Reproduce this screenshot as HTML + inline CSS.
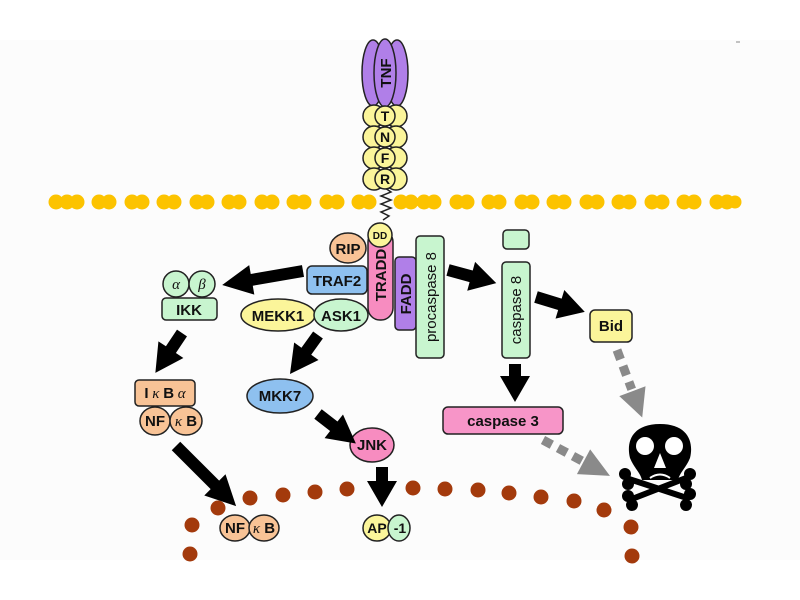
<!DOCTYPE html>
<html><head><style>body{margin:0;background:#fff}svg{display:block}text{font-family:"Liberation Sans",sans-serif;font-weight:bold;fill:#111}.g{font-family:"Liberation Serif",serif;font-style:italic;font-weight:normal}</style></head><body>
<svg width="800" height="600" viewBox="0 0 800 600">
<rect x="0" y="40" width="800" height="520" fill="#fcfcfc"/>
<!-- membrane -->
<g fill="#fcc300">
<circle cx="56" cy="202" r="7.5"/><circle cx="67" cy="202" r="7.5"/><circle cx="77" cy="202" r="7.5"/><circle cx="99" cy="202" r="7.5"/><circle cx="109" cy="202" r="7.5"/><circle cx="132" cy="202" r="7.5"/><circle cx="142" cy="202" r="7.5"/><circle cx="164" cy="202" r="7.5"/><circle cx="174" cy="202" r="7.5"/><circle cx="197" cy="202" r="7.5"/><circle cx="207" cy="202" r="7.5"/><circle cx="229" cy="202" r="7.5"/><circle cx="239" cy="202" r="7.5"/><circle cx="262" cy="202" r="7.5"/><circle cx="272" cy="202" r="7.5"/><circle cx="294" cy="202" r="7.5"/><circle cx="304" cy="202" r="7.5"/><circle cx="327" cy="202" r="7.5"/><circle cx="337" cy="202" r="7.5"/><circle cx="359" cy="202" r="7.5"/><circle cx="369" cy="202" r="7.5"/><circle cx="401" cy="202" r="7.5"/><circle cx="411" cy="202" r="7.5"/><circle cx="424" cy="202" r="7.5"/><circle cx="434" cy="202" r="7.5"/><circle cx="457" cy="202" r="7.5"/><circle cx="467" cy="202" r="7.5"/><circle cx="489" cy="202" r="7.5"/><circle cx="499" cy="202" r="7.5"/><circle cx="522" cy="202" r="7.5"/><circle cx="532" cy="202" r="7.5"/><circle cx="554" cy="202" r="7.5"/><circle cx="564" cy="202" r="7.5"/><circle cx="587" cy="202" r="7.5"/><circle cx="597" cy="202" r="7.5"/><circle cx="619" cy="202" r="7.5"/><circle cx="629" cy="202" r="7.5"/><circle cx="652" cy="202" r="7.5"/><circle cx="662" cy="202" r="7.5"/><circle cx="684" cy="202" r="7.5"/><circle cx="694" cy="202" r="7.5"/><circle cx="717" cy="202" r="7.5"/><circle cx="727" cy="202" r="7.5"/><circle cx="735" cy="202" r="6.5"/>
</g>
<!-- nucleus dots -->
<g fill="#a33a0c">
<circle cx="192" cy="525" r="7.5"/><circle cx="218" cy="508" r="7.5"/><circle cx="250" cy="498" r="7.5"/><circle cx="283" cy="495" r="7.5"/><circle cx="315" cy="492" r="7.5"/><circle cx="347" cy="489" r="7.5"/><circle cx="380" cy="488" r="7.5"/><circle cx="413" cy="488" r="7.5"/><circle cx="445" cy="489" r="7.5"/><circle cx="478" cy="490" r="7.5"/><circle cx="509" cy="493" r="7.5"/><circle cx="541" cy="497" r="7.5"/><circle cx="574" cy="501" r="7.5"/><circle cx="604" cy="510" r="7.5"/><circle cx="631" cy="527" r="7.5"/><circle cx="632" cy="556" r="7.5"/><circle cx="190" cy="554" r="7.5"/>
</g>
<path d="M385,188 l6,4 l-10,4 l10,4 l-10,4 l10,4 l-10,4 l8,4 l-6,4" fill="none" stroke="#222" stroke-width="1.5"/>
<g stroke="#222" stroke-width="1.5">
<ellipse cx="373" cy="73" rx="11" ry="33" fill="#b07fe8"/>
<ellipse cx="397" cy="73" rx="11" ry="33" fill="#b07fe8"/>
<ellipse cx="385" cy="73" rx="11" ry="34" fill="#b07fe8"/>
<g fill="#fbf59a">
<circle cx="374" cy="116" r="11"/><circle cx="396" cy="116" r="11"/><circle cx="385" cy="116" r="10"/>
<circle cx="374" cy="137" r="11"/><circle cx="396" cy="137" r="11"/><circle cx="385" cy="137" r="10"/>
<circle cx="374" cy="158" r="11"/><circle cx="396" cy="158" r="11"/><circle cx="385" cy="158" r="10"/>
<circle cx="374" cy="179" r="11"/><circle cx="396" cy="179" r="11"/><circle cx="385" cy="179" r="10"/>
</g>
<rect x="368" y="230" width="25" height="90" rx="12" fill="#f78cc0"/>
<circle cx="380" cy="235" r="12" fill="#fbf59a"/>
<rect x="395" y="257" width="21" height="73" rx="4" fill="#b07fe8"/>
<rect x="416" y="236" width="28" height="122" rx="4" fill="#c8f5cf"/>
<ellipse cx="348" cy="248" rx="18" ry="15" fill="#f8c396"/>
<rect x="307" y="266" width="60" height="28" rx="5" fill="#8ec0ef"/>
<ellipse cx="278" cy="315" rx="37" ry="16" fill="#fbf59a"/>
<ellipse cx="341" cy="315" rx="27" ry="16" fill="#c8f5cf"/>
<circle cx="176" cy="284" r="13" fill="#c8f5cf"/><circle cx="202" cy="284" r="13" fill="#c8f5cf"/>
<rect x="162" y="298" width="55" height="22" rx="4" fill="#c8f5cf"/>
<rect x="135" y="380" width="60" height="26" rx="4" fill="#f8c396"/>
<ellipse cx="155" cy="421" rx="15" ry="14" fill="#f8c396"/><ellipse cx="186" cy="421" rx="16" ry="14" fill="#f8c396"/>
<ellipse cx="235" cy="528" rx="15" ry="13" fill="#f8c396"/><ellipse cx="264" cy="528" rx="15" ry="13" fill="#f8c396"/>
<ellipse cx="280" cy="396" rx="33" ry="17" fill="#8ec0ef"/>
<ellipse cx="372" cy="445" rx="22" ry="17" fill="#f78cc0"/>
<ellipse cx="377" cy="528" rx="14" ry="13" fill="#fbf59a"/><ellipse cx="399" cy="528" rx="11" ry="13" fill="#c8f5cf"/>
<rect x="503" y="230" width="26" height="19" rx="4" fill="#c8f5cf"/>
<rect x="502" y="262" width="28" height="96" rx="4" fill="#c8f5cf"/>
<rect x="590" y="310" width="42" height="32" rx="5" fill="#fbf59a"/>
<rect x="443" y="407" width="120" height="27" rx="5" fill="#f795c8"/>
</g>
<!-- arrows -->
<g fill="#000">
<g transform="translate(303,271) rotate(170.2)"><polygon points="0,-6 52,-6 52,-15 82,0 52,15 52,6 0,6"/></g>
<g transform="translate(182,333) rotate(123.7)"><polygon points="0,-6 20,-6 20,-15 48,0 20,15 20,6 0,6"/></g>
<g transform="translate(318,335) rotate(125.7)"><polygon points="0,-6 20,-6 20,-15 48,0 20,15 20,6 0,6"/></g>
<g transform="translate(176,446) rotate(45)"><polygon points="0,-6 55,-6 55,-15 85,0 55,15 55,6 0,6"/></g>
<g transform="translate(318,414) rotate(37.9)"><polygon points="0,-6 20,-6 20,-15 48,0 20,15 20,6 0,6"/></g>
<g transform="translate(382,467) rotate(90)"><polygon points="0,-6 14,-6 14,-15 40,0 14,15 14,6 0,6"/></g>
<g transform="translate(448,270) rotate(15.2)"><polygon points="0,-6 24,-6 24,-15 50,0 24,15 24,6 0,6"/></g>
<g transform="translate(536,297) rotate(17)"><polygon points="0,-6 25,-6 25,-15 51,0 25,15 25,6 0,6"/></g>
<g transform="translate(515,364) rotate(90)"><polygon points="0,-6 12,-6 12,-15 38,0 12,15 12,6 0,6"/></g>
</g>
<g fill="#8a8a8a">
<g transform="translate(543,440) rotate(28.2)"><rect x="0" y="-4.5" width="10" height="9"/><rect x="17" y="-4.5" width="10" height="9"/><rect x="34" y="-4.5" width="10" height="9"/><polygon points="46,-14 76,0 46,14"/></g>
<g transform="translate(617,350) rotate(69.5)"><rect x="0" y="-4.5" width="10" height="9"/><rect x="17" y="-4.5" width="10" height="9"/><rect x="34" y="-4.5" width="8" height="9"/><polygon points="44,-14 72,0 44,14"/></g>
</g>
<!-- skull -->
<g>
<path d="M626,478 L690,499 M632,499 L686,478" stroke="#000" stroke-width="6"/>
<circle cx="625" cy="474" r="6"/><circle cx="628" cy="484" r="6"/>
<circle cx="690" cy="474" r="6"/><circle cx="686" cy="484" r="6"/>
<circle cx="628" cy="496" r="6"/><circle cx="632" cy="505" r="6"/>
<circle cx="690" cy="494" r="6"/><circle cx="686" cy="505" r="6"/>
<path d="M660,424 C688,424 694,442 690,458 C686,468 680,472 678,480 L642,480 C640,472 634,468 630,458 C626,442 632,424 660,424z" fill="#000"/>
<circle cx="645" cy="446" r="9" fill="#fff"/><circle cx="674" cy="446" r="9" fill="#fff"/>
<path d="M660,453 L654,468 L666,468z" fill="#fff"/>
<path d="M650,478 Q660,471 670,478" stroke="#fff" stroke-width="2" fill="none"/>
</g>
<!-- labels -->
<text transform="translate(391,73) rotate(-90)" font-size="15" text-anchor="middle">TNF</text>
<g font-size="14" text-anchor="middle">
<text x="385" y="121">T</text><text x="385" y="142">N</text><text x="385" y="163">F</text><text x="385" y="184">R</text>
</g>
<text x="380" y="239" font-size="10" text-anchor="middle">DD</text>
<text transform="translate(386,275) rotate(-90)" font-size="15" text-anchor="middle">TRADD</text>
<text transform="translate(411,294) rotate(-90)" font-size="15" text-anchor="middle">FADD</text>
<text transform="translate(436,297) rotate(-90)" font-size="15" text-anchor="middle" style="font-weight:normal">procaspase 8</text>
<text transform="translate(521,310) rotate(-90)" font-size="15" text-anchor="middle" style="font-weight:normal">caspase 8</text>
<text x="348" y="254" font-size="15" text-anchor="middle">RIP</text>
<text x="337" y="286" font-size="15" text-anchor="middle">TRAF2</text>
<text x="278" y="321" font-size="15" text-anchor="middle">MEKK1</text>
<text x="341" y="321" font-size="15" text-anchor="middle">ASK1</text>
<text x="176" y="289" font-size="15" text-anchor="middle" class="g">α</text>
<text x="202" y="289" font-size="15" text-anchor="middle" class="g">β</text>
<text x="189" y="315" font-size="15" text-anchor="middle">IKK</text>
<text x="165" y="398" font-size="15" text-anchor="middle">I<tspan class="g"> κ </tspan>B<tspan class="g"> α</tspan></text>
<text x="155" y="426" font-size="15" text-anchor="middle">NF</text>
<text x="186" y="426" font-size="15" text-anchor="middle"><tspan class="g">κ</tspan> B</text>
<text x="235" y="533" font-size="15" text-anchor="middle">NF</text>
<text x="264" y="533" font-size="15" text-anchor="middle"><tspan class="g">κ</tspan> B</text>
<text x="280" y="401" font-size="15" text-anchor="middle">MKK7</text>
<text x="372" y="450" font-size="15" text-anchor="middle">JNK</text>
<text x="377" y="533" font-size="14" text-anchor="middle">AP</text>
<text x="400" y="533" font-size="14" text-anchor="middle">-1</text>
<text x="611" y="331" font-size="15" text-anchor="middle">Bid</text>
<text x="503" y="426" font-size="15" text-anchor="middle">caspase 3</text>
<line x1="736" y1="42" x2="740" y2="42" stroke="#888"/>
</svg>
</body></html>
